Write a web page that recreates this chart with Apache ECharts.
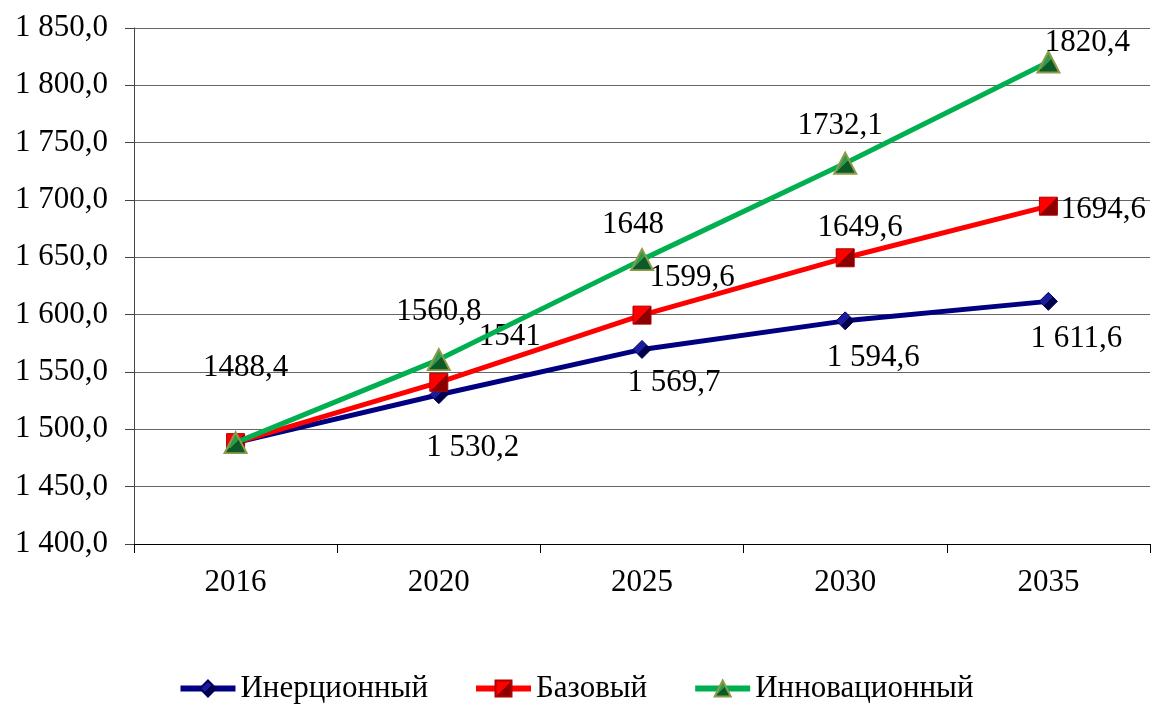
<!DOCTYPE html>
<html lang="ru">
<head>
	<meta charset="UTF-8">
	<title>chart</title>
	<script src="https://cdn.jsdelivr.net/npm/echarts@6/dist/echarts.min.js"></script>
	<style>
		html, body { margin: 0; padding: 0; background: #fff; }
	</style>
</head>
<body>
	<div id="chart" style="width: 1151px;height:706px;"></div>
	<script>
		// данные
		var years = ['2016', '2020', '2025', '2030', '2035'];
		var inertial = [1488.4, 1530.2, 1569.7, 1594.6, 1611.6];
		var base = [1488.4, 1541, 1599.6, 1649.6, 1694.6];
		var innovation = [1488.4, 1560.8, 1648, 1732.1, 1820.4];
		var seriesNames = ['Инерционный', 'Базовый', 'Инновационный'];
		var yMin = 1400, yMax = 1850, yStep = 50;

		// сдвиг подписей от центра маркера (null — без подписи)
		var inertialOff = [null, [34, 53], [32, 33], [28, 37], [28, 37]];
		var baseOff = [null, [71, -45], [50, -37], [15, -30], [55, 4]];
		var innovOff = [[10, -75], [0, -48], [-9, -35], [-5, -37], [39, -19]];

		var font = '"Liberation Serif", "Times New Roman", serif';

		// "1 530,2"
		function fmtSpace(v) {
			var p = v.toFixed(1).split('.');
			return p[0].replace(/\B(?=(\d{3})+(?!\d))/g, ' ') + ',' + p[1];
		}
		// "1560,8" / "1541"
		function fmtPlain(v) {
			return String(v).replace('.', ',');
		}

		function points(vals, offs, fmt) {
			return vals.map(function (v, i) {
				if (!offs[i]) return { value: v, label: { show: false } };
				return {
					value: v,
					label: { show: true, position: 'inside', offset: offs[i], formatter: fmt(v) }
				};
			});
		}

		function grad(c1, c2) {
			return new echarts.graphic.LinearGradient(0, 0, 1, 1, [
				{ offset: 0, color: c1 }, { offset: 0.5, color: c1 },
				{ offset: 0.5, color: c2 }, { offset: 1, color: c2 }
			]);
		}

		var labelStyle = { color: '#000', fontSize: 31, fontFamily: font };

		var myChart = echarts.init(document.getElementById('chart'));

		var option = {
			animation: false,
			backgroundColor: '#fff',
			grid: { left: 134, right: 1, top: 28, bottom: 162, outerBoundsMode: 'none' },
			legend: {
				top: 668,
				left: 'center',
				itemWidth: 55,
				itemHeight: 20,
				itemGap: 45,
				lineStyle: { width: 6 },
				textStyle: { color: '#000', fontSize: 31, fontFamily: font },
				data: seriesNames
			},
			xAxis: {
				type: 'category',
				data: years,
				boundaryGap: true,
				axisLine: { lineStyle: { color: '#000', width: 1 } },
				axisTick: { show: true, length: 9, lineStyle: { color: '#000' } },
				axisLabel: { margin: 23, color: '#000', fontSize: 31, fontFamily: font }
			},
			yAxis: {
				type: 'value',
				min: yMin,
				max: yMax,
				interval: yStep,
				axisLine: { show: true, lineStyle: { color: '#444', width: 1 } },
				axisTick: { show: true, length: 9, lineStyle: { color: '#444' } },
				axisLabel: {
					margin: 26, color: '#000', fontSize: 31, fontFamily: font,
					formatter: function (v) { return fmtSpace(v); }
				},
				splitLine: { lineStyle: { color: '#666', width: 1 } }
			},
			series: [
				{
					name: seriesNames[0],
					type: 'line',
					data: points(inertial, inertialOff, fmtSpace),
					symbol: 'diamond',
					symbolSize: 18,
					lineStyle: { color: '#000080', width: 5 },
					itemStyle: { color: grad('#1c1ca0', '#00004a'), borderColor: '#000060', borderWidth: 1 },
					label: labelStyle,
					z: 2
				},
				{
					name: seriesNames[1],
					type: 'line',
					data: points(base, baseOff, fmtPlain),
					symbol: 'rect',
					symbolSize: 18,
					lineStyle: { color: '#ff0000', width: 5 },
					itemStyle: { color: grad('#ff0000', '#8a0000'), borderColor: '#b00000', borderWidth: 1 },
					label: labelStyle,
					z: 3
				},
				{
					name: seriesNames[2],
					type: 'line',
					data: points(innovation, innovOff, fmtPlain),
					symbol: 'triangle',
					symbolSize: [22, 21],
					lineStyle: { color: '#00b050', width: 5 },
					itemStyle: { color: grad('#2f9a4a', '#0c5a28'), borderColor: '#8c9a4a', borderWidth: 2 },
					label: labelStyle,
					z: 4
				}
			]
		};

		myChart.setOption(option);
	</script>
</body>
</html>
